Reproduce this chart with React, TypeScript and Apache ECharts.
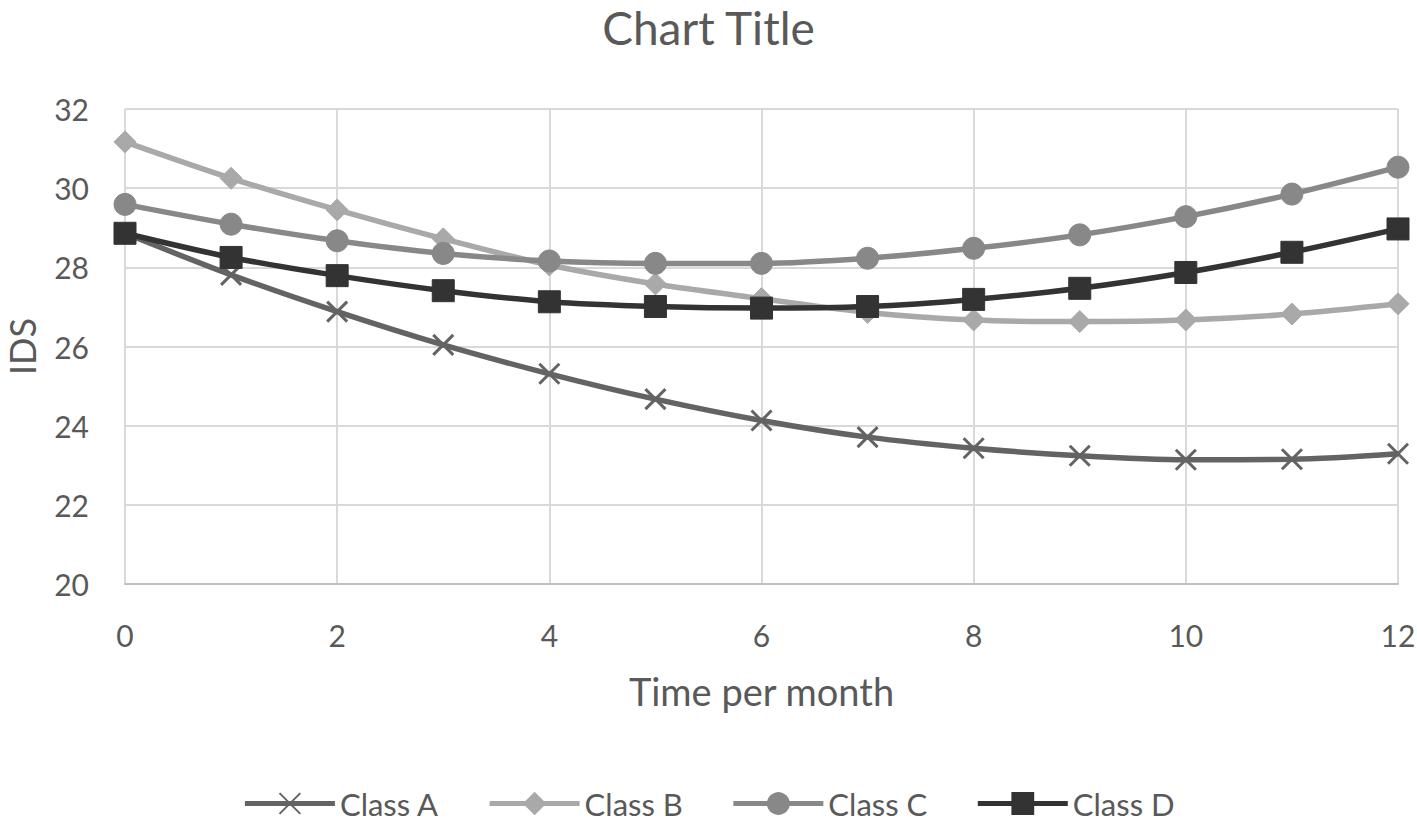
import React, { useEffect, useRef } from "react";
import * as echarts from "echarts";

const months = [0, 1, 2, 3, 4, 5, 6, 7, 8, 9, 10, 11, 12];
const classA = [28.86, 27.81, 26.88, 26.04, 25.31, 24.67, 24.13, 23.71, 23.43, 23.24, 23.14, 23.15, 23.29];
const classB = [31.17, 30.25, 29.45, 28.72, 28.06, 27.58, 27.21, 26.86, 26.67, 26.63, 26.67, 26.82, 27.08];
const classC = [29.59, 29.09, 28.67, 28.35, 28.16, 28.1, 28.1, 28.23, 28.48, 28.82, 29.28, 29.85, 30.53];
const classD = [28.86, 28.25, 27.79, 27.41, 27.13, 27.01, 26.97, 27.01, 27.19, 27.47, 27.87, 28.38, 28.97];

const seriesNames = ["Class A", "Class B", "Class C", "Class D"];
const seriesData = [classA, classB, classC, classD];
const colors = ["#636363", "#a9a9a9", "#888888", "#333333"];

const FONT = "Lato, 'Open Sans', sans-serif";

export default function App() {
  const ref = useRef<HTMLDivElement>(null);
  useEffect(() => {
    if (!ref.current) return;
    const chart = echarts.init(ref.current, undefined, { renderer: "svg" });
    const symbols = ["path://M0,0L10,10M10,0L0,10", "diamond", "circle", "rect"];
    const sizes = [20, 22, 22, 22];
    chart.setOption({
      animation: false,
      backgroundColor: "#ffffff",
      title: {
        text: "Chart Title",
        left: "center",
        top: 4,
        padding: [0, 5, 0, 5],
        textStyle: { fontFamily: FONT, fontSize: 46, lineHeight: 46, fontWeight: "normal", color: "#595959" },
      },
      legend: {
        top: 783,
        left: "center",
        itemWidth: 90,
        itemHeight: 26,
        itemGap: 48,
        lineStyle: { width: 5 },
        textStyle: { fontFamily: FONT, fontSize: 31, color: "#595959", padding: [0, 0, 0, 0] },
        data: seriesNames,
      },
      grid: { left: 125, right: 19, top: 109, bottom: 237, containLabel: false, outerBoundsMode: "none" },
      xAxis: {
        type: "value",
        min: 0,
        max: 12,
        interval: 2,
        name: "Time per month",
        nameLocation: "middle",
        nameGap: 88,
        nameTextStyle: { fontFamily: FONT, fontSize: 38, color: "#595959" },
        axisLine: { show: true, lineStyle: { color: "#bfbfbf", width: 2 } },
        axisTick: { show: false },
        axisLabel: { fontFamily: FONT, fontSize: 30, color: "#595959", margin: 36 },
        splitLine: { show: true, lineStyle: { color: "#d9d9d9", width: 2 } },
      },
      yAxis: {
        type: "value",
        min: 20,
        max: 32,
        interval: 2,
        name: "IDS",
        nameLocation: "middle",
        nameGap: 85,
        nameTextStyle: { fontFamily: FONT, fontSize: 36, color: "#595959" },
        axisLine: { show: false },
        axisTick: { show: false },
        axisLabel: { fontFamily: FONT, fontSize: 30, color: "#595959", margin: 36 },
        splitLine: { show: true, lineStyle: { color: "#d9d9d9", width: 2 } },
      },
      series: seriesNames.map((name, i) => ({
        name,
        type: "line",
        smooth: 0.3,
        data: months.map((m, j) => [m, seriesData[i][j]]),
        symbol: symbols[i],
        symbolSize: sizes[i],
        showAllSymbol: true,
        lineStyle: { color: colors[i], width: 5.5 },
        itemStyle:
          i === 0
            ? { color: colors[i], borderColor: colors[i], borderWidth: 3 }
            : { color: colors[i], borderColor: colors[i], borderWidth: 1 },
        z: 2 + i,
      })),
    });
    return () => chart.dispose();
  }, []);
  return (
    <div
      ref={ref}
      style={{ position: "absolute", left: 0, top: 0, width: 1417, height: 821 }}
    />
  );
}
